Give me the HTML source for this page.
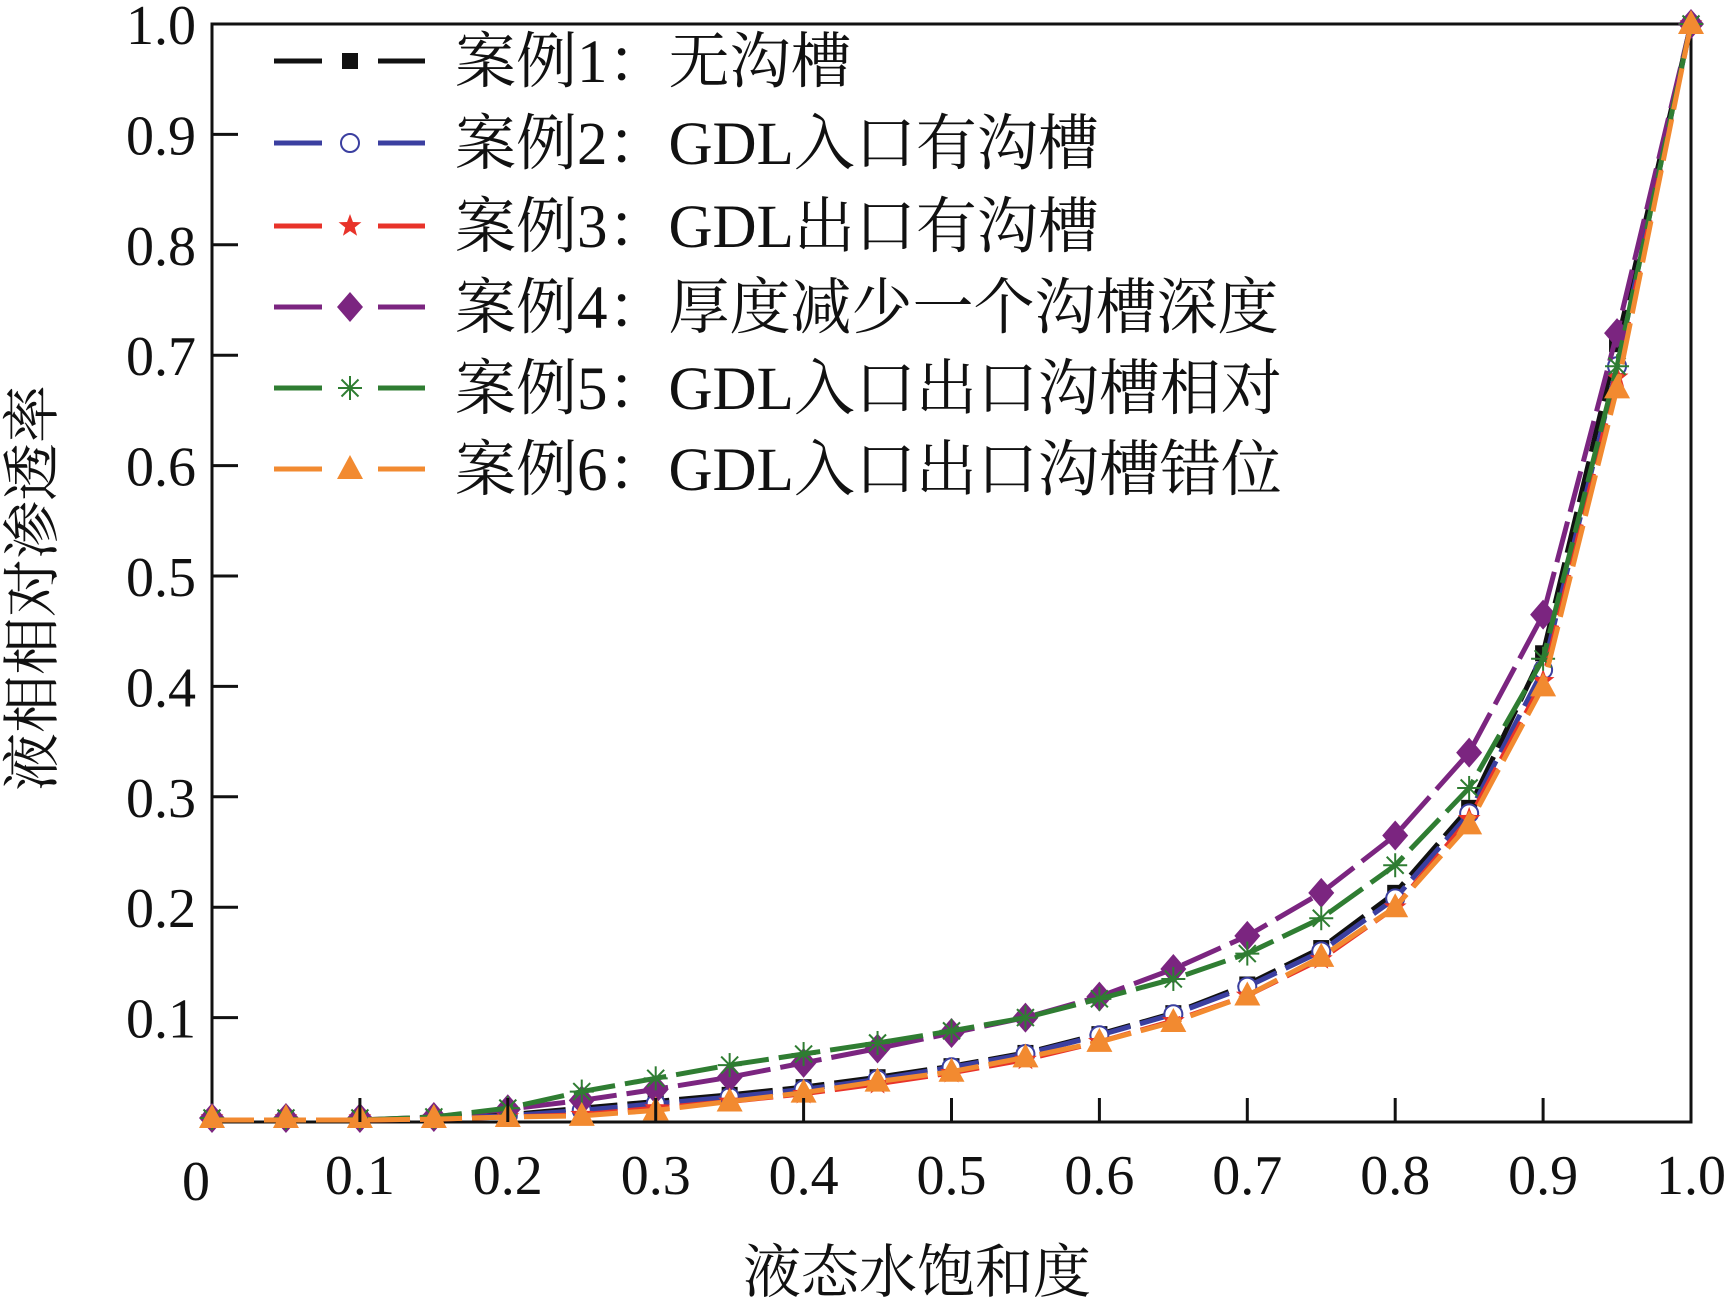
<!DOCTYPE html>
<html><head><meta charset="utf-8"><style>
body{margin:0;background:#fff}
svg{display:block}
text{font-family:"Liberation Serif","Noto Serif CJK SC",serif;fill:#111}
</style></head><body>
<svg id="c" width="1733" height="1301"></svg>
<script>
const xs=[0,0.05,0.1,0.15,0.2,0.25,0.3,0.35,0.4,0.45,0.5,0.55,0.6,0.65,0.7,0.75,0.8,0.85,0.9,0.95,1.0];
const case1=[0.005,0.005,0.007,0.009,0.012,0.018,0.024,0.03,0.037,0.046,0.056,0.068,0.085,0.104,0.13,0.163,0.213,0.29,0.43,0.71,1.0];
const case2=[0.005,0.005,0.007,0.009,0.011,0.016,0.022,0.028,0.035,0.044,0.055,0.067,0.084,0.103,0.128,0.16,0.208,0.285,0.415,0.69,1.0];
const case3=[0.005,0.005,0.007,0.008,0.01,0.012,0.018,0.024,0.031,0.04,0.05,0.062,0.078,0.097,0.12,0.153,0.2,0.28,0.405,0.68,1.0];
const case4=[0.005,0.005,0.007,0.01,0.017,0.025,0.035,0.046,0.059,0.072,0.086,0.1,0.119,0.144,0.174,0.213,0.265,0.34,0.465,0.72,1.0];
const case5=[0.005,0.005,0.007,0.01,0.018,0.033,0.045,0.057,0.067,0.077,0.088,0.1,0.117,0.135,0.158,0.19,0.238,0.308,0.425,0.69,1.0];
const case6=[0.005,0.005,0.006,0.008,0.01,0.011,0.016,0.024,0.032,0.042,0.051,0.064,0.078,0.096,0.12,0.155,0.2,0.275,0.4,0.67,1.0];
const labels=["案例1：无沟槽","案例2：GDL入口有沟槽","案例3：GDL出口有沟槽","案例4：厚度减少一个沟槽深度","案例5：GDL入口出口沟槽相对","案例6：GDL入口出口沟槽错位"];
const xTicks=[0.1,0.2,0.3,0.4,0.5,0.6,0.7,0.8,0.9,1.0];
const yTicks=[0.1,0.2,0.3,0.4,0.5,0.6,0.7,0.8,0.9,1.0];
const series=[case1,case2,case3,case4,case5,case6];
const colors=["#111111","#3b3fa0","#e8332a","#7b2580","#2f7d32","#f28a30"];
const markers=["square","circle","star","diamond","asterisk","triangle"];
const NS="http://www.w3.org/2000/svg";
const svg=document.getElementById('c');
const L=212,R=1691,T=24;
const X=v=>L+(R-L)*v;
const Yf=v=>1128-v*1104;
function el(t,a,p){const e=document.createElementNS(NS,t);for(const k in a)e.setAttribute(k,a[k]);(p||svg).appendChild(e);return e;}
function marker(type,x,y,c,g){
  let m;
  if(type==="square")m=el('rect',{x:x-8,y:y-8,width:16,height:16,fill:c},g);
  else if(type==="circle")m=el('circle',{cx:x,cy:y,r:9,fill:'#fff',stroke:c,'stroke-width':2},g);
  else if(type==="star"){let p=[];for(let i=0;i<10;i++){const r=i%2?5:12,a=-Math.PI/2+i*Math.PI/5;p.push((x+r*Math.cos(a))+','+(y+r*Math.sin(a)));}m=el('polygon',{points:p.join(' '),fill:c},g);}
  else if(type==="diamond")m=el('polygon',{points:`${x},${y-15} ${x+13},${y} ${x},${y+15} ${x-13},${y}`,fill:c},g);
  else if(type==="asterisk"){m=el('g',{stroke:c,'stroke-width':2},g);for(let i=0;i<4;i++){const a=i*Math.PI/4;el('line',{x1:x-12*Math.cos(a),y1:y-12*Math.sin(a),x2:x+12*Math.cos(a),y2:y+12*Math.sin(a)},m);}}
  else m=el('polygon',{points:`${x},${y-14} ${x+13},${y+10} ${x-13},${y+10}`,fill:c},g);
  return m;
}
const frame=el('rect',{x:L,y:T,width:R-L,height:1122-T,fill:'none',stroke:'#111','stroke-width':3});

series.forEach((s,si)=>{
  const g=el('g',{});
  
  
  const pts=xs.map((v,i)=>X(v)+','+Math.min(1120,Yf(s[i]))).join(' ');
  el('polyline',{points:pts,fill:'none',stroke:colors[si],'stroke-width':5,'stroke-dasharray':'42 10'},g);
  xs.forEach((v,i)=>{const m=marker(markers[si],X(v),Math.min(1118,Yf(s[i])),colors[si],g);});
});
xTicks.forEach(t=>{
  const l=el('line',{x1:X(t),y1:1122,x2:X(t),y2:1098,stroke:'#111','stroke-width':3});
  
  const tx=el('text',{x:X(t),y:1194,'font-size':56,'text-anchor':'middle'});tx.textContent=t.toFixed(1);
  
});
const z=el('text',{x:196,y:1200,'font-size':56,'text-anchor':'middle'});z.textContent='0';

yTicks.forEach(t=>{
  const l=el('line',{x1:L,y1:Yf(t),x2:L+26,y2:Yf(t),stroke:'#111','stroke-width':3});
  
  const tx=el('text',{x:196,y:Yf(t)+20,'font-size':56,'text-anchor':'end'});tx.textContent=t.toFixed(1);
  
});
const xt=el('text',{x:917,y:1292,'font-size':58,'text-anchor':'middle'});xt.textContent='液态水饱和度';

const yt=el('text',{x:0,y:0,'font-size':58,'text-anchor':'middle',transform:'translate(52,588) rotate(-90)'});yt.textContent='液相相对渗透率';

const legY=[61,143,226,307,388,469];
labels.forEach((lb,i)=>{
  const g=el('g',{});
  
  
  el('line',{x1:274,y1:legY[i],x2:322,y2:legY[i],stroke:colors[i],'stroke-width':5},g);
  el('line',{x1:378,y1:legY[i],x2:425,y2:legY[i],stroke:colors[i],'stroke-width':5},g);
  marker(markers[i],350,legY[i],colors[i],g);
  const t=el('text',{x:455,y:legY[i]+21,'font-size':61},g);t.textContent=lb;
});
</script>
</body></html>
